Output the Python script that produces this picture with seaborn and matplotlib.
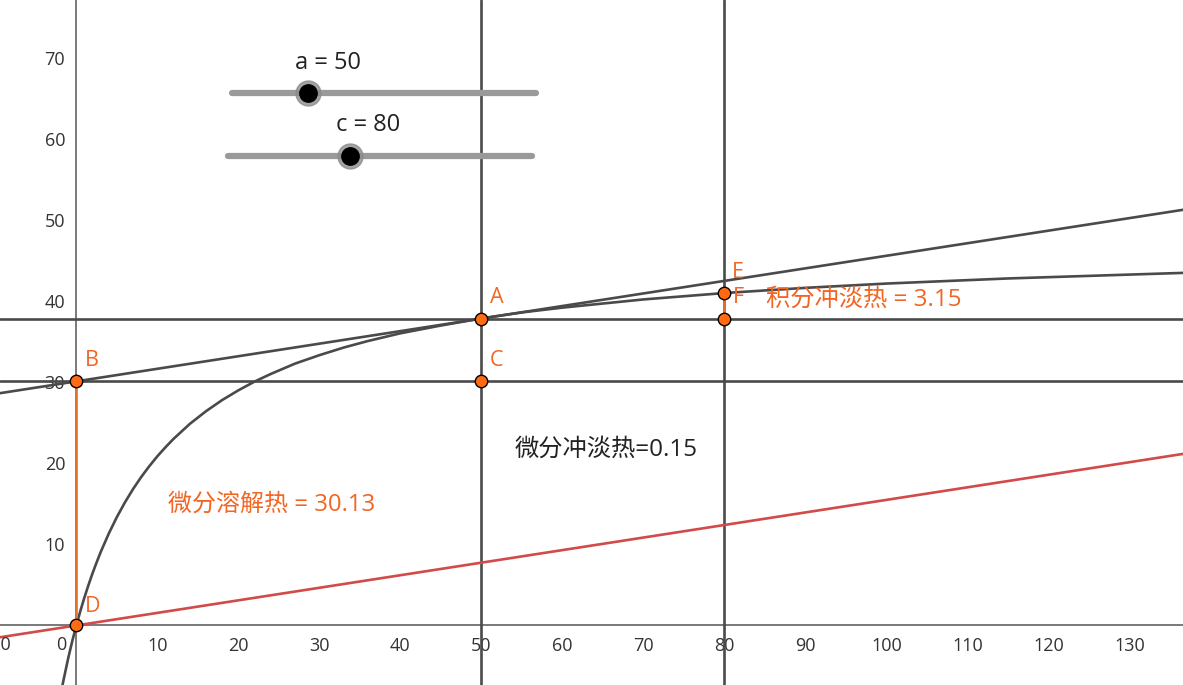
import matplotlib
matplotlib.use('Agg')
import numpy as np
import pandas as pd
import matplotlib.pyplot as plt
import seaborn as sns

# curve
curve_x = [-1.8, -1.0, -0.5, 0, 0.5, 1, 1.5, 2, 2.5, 3, 4, 5, 6, 7, 8, 9, 10, 11, 12, 14,
           16, 18, 20, 22, 24, 27, 30, 33, 36, 40, 45, 50, 55, 60, 70, 80, 90, 100, 115, 137]
curve_y = [-7.79, -4.03, -1.93, 0, 1.79, 3.45, 4.99, 6.43, 7.77, 9.04, 11.33, 13.37,
           15.19, 16.83, 18.31, 19.65, 20.88, 21.99, 23.03, 24.87, 26.44, 27.82, 29.02,
           30.10, 31.04, 32.32, 33.36, 34.30, 35.11, 36.06, 37.02, 37.90, 38.64, 39.23,
           40.24, 41.03, 41.67, 42.20, 42.83, 43.53]

# tangent at A and the parallel line through the origin
tangent_b = 30.13
tangent_k = 0.155
red_k = 0.155

# sliders
slider_a = 50
slider_c = 80
slider_max = 200

h_lines = [37.88, 30.13]
v_lines = [50, 80]

# named points
pt_names = ['A', 'B', 'C', 'D', 'F', '']
pt_x = [50, 0, 50, 0, 80, 80]
pt_y = [37.88, 30.13, 30.13, 0, 41.03, 37.88]
e_pt = (80, 42.53)

xticks = [10, 20, 30, 40, 50, 60, 70, 80, 90, 100, 110, 120, 130]
yticks = [10, 20, 30, 40, 50, 60, 70]

sns.set_theme(style='white')
plt.rcParams['font.family'] = ['Open Sans', 'Noto Sans CJK SC', 'DejaVu Sans']

dark = '#4a4a4a'
orange = '#f26522'
red = '#d24a4a'
tick_col = '#333333'

fig = plt.figure(figsize=(11.83, 6.85), dpi=100)
ax = fig.add_axes([0, 0, 1, 1])

# straight lines
for y in h_lines:
    ax.axhline(y, color=dark, lw=1.9, zorder=2)
for x in v_lines:
    ax.axvline(x, color=dark, lw=1.9, zorder=2)
ax.axline((0, tangent_b), slope=tangent_k, color=dark, lw=1.9, zorder=2)
ax.axline((0, 0), slope=red_k, color=red, lw=1.9, zorder=2)

# curve
df = pd.DataFrame({'x': curve_x, 'y': curve_y})
sns.lineplot(data=df, x='x', y='y', color=dark, lw=1.9, sort=False, estimator=None,
             ax=ax, zorder=3)

# orange segments
ax.plot([pt_x[3], pt_x[1]], [pt_y[3], pt_y[1]], color='#e8702a', lw=1.9, zorder=3)
ax.plot([pt_x[5], pt_x[4]], [pt_y[5], pt_y[4]], color='#e8702a', lw=1.9, zorder=3)

# points
pts = pd.DataFrame({'x': pt_x, 'y': pt_y})
sns.scatterplot(data=pts, x='x', y='y', s=80, color='#ff6a13', edgecolor='black',
                linewidth=1, ax=ax, zorder=5)
offsets = {'A': (11, 15), 'B': (11, 15), 'C': (11, 15), 'D': (12, 14), 'F': (10, -3)}
for n, x, y in zip(pt_names, pt_x, pt_y):
    if n:
        ax.annotate(n, (x, y), xytext=offsets[n], textcoords='offset points', fontsize=15.5,
                    color=orange, ha='center', va='center', zorder=6)
ax.annotate('E', e_pt, xytext=(10, 6), textcoords='offset points', fontsize=15.5,
            color=orange, ha='center', va='center', zorder=6)

# text
ax.text(11.3, 14.9, '微分溶解热 = 30.13', color=orange, fontsize=17.3, va='center', ha='left')
ax.text(54.1, 21.7, '微分冲淡热=0.15', color='#222222', fontsize=17.5, va='center', ha='left')
ax.text(85.1, 40.2, '积分冲淡热 = 3.15', color=orange, fontsize=17.5, va='center', ha='left')

# sliders
sliders = [('a', slider_a, 0.196, 0.453, 0.864, 0.277, 0.908),
           ('c', slider_c, 0.193, 0.450, 0.772, 0.311, 0.818)]
for name, val, x0, x1, yy, lx, ly in sliders:
    ax.plot([x0, x1], [yy, yy], transform=ax.transAxes, color='#9a9a9a', lw=4.5,
            solid_capstyle='round', zorder=4)
    kx = x0 + (x1 - x0) * val / slider_max
    ax.plot([kx], [yy], 'o', transform=ax.transAxes, ms=18, color='#8c8c8c',
            alpha=0.8, zorder=5)
    ax.plot([kx], [yy], 'o', transform=ax.transAxes, ms=12.5, color='black', zorder=6)
    ax.text(lx, ly, f'{name} = {val}', transform=ax.transAxes, fontsize=17,
            color='#222222', ha='center', va='center')

# axes like geogebra
for s in ['top', 'right']:
    ax.spines[s].set_visible(False)
ax.spines['left'].set_position(('data', 0))
ax.spines['bottom'].set_position(('data', 0))
for s in ['left', 'bottom']:
    ax.spines[s].set_color('#555555')
    ax.spines[s].set_linewidth(1.1)
    ax.spines[s].set_zorder(1)
ax.set_xticks(xticks)
ax.set_yticks(yticks)
ax.set_xticklabels([str(t) for t in xticks])
ax.set_yticklabels([str(t) for t in yticks])
ax.tick_params(axis='both', direction='out', length=4, width=1, colors='#555555',
               labelcolor=tick_col, labelsize=13, pad=4)
ax.annotate('0', (0, 0), xytext=(-11, -14), textcoords='offset points',
            ha='center', va='center', fontsize=13, color=tick_col)
# -10 sits just past the left edge, only its tail shows
ax.annotate('\u221210', (-10, 0), xytext=(0, -14), textcoords='offset points',
            ha='center', va='center', fontsize=13, color=tick_col, annotation_clip=False)
ax.set_xlabel('')
ax.set_ylabel('')
ax.set_xlim(-9.42, 136.6)
ax.set_ylim(-7.35, 77.2)

fig.savefig('out.png', dpi=100)
